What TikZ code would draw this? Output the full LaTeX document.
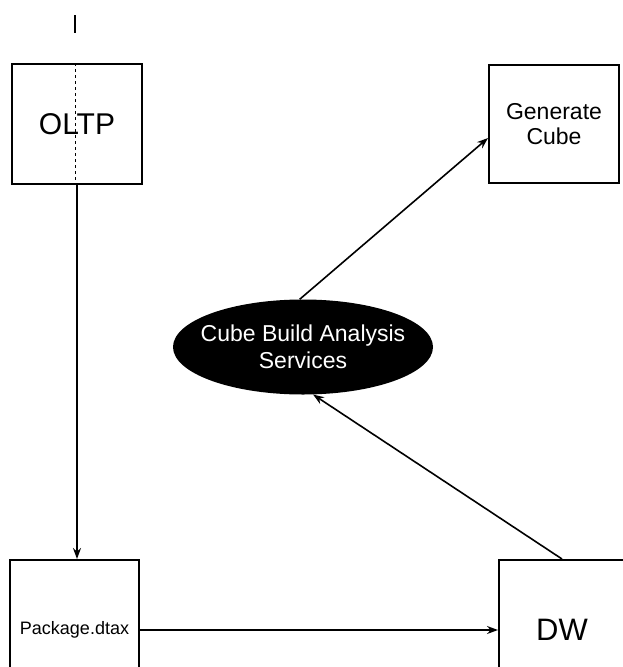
\documentclass[tikz,border=0pt]{standalone}
\usepackage{fontspec}
\setmainfont{Liberation Sans}
\usetikzlibrary{shapes, positioning, calc, arrows.meta}

\begin{document}
\begin{tikzpicture}[x=1pt, y=-1pt]
  \newcommand\boxlw{2pt}
  \newcommand\ptrlw{1.6pt}
  \newcommand\bigfont{\fontsize{30}{33}\selectfont}
  \newcommand\dwfont{\fontsize{31}{34}\selectfont}
  \newcommand\midfont{\fontsize{23}{25}\selectfont}
  \newcommand\ellfont{\fontsize{23}{27}\selectfont}
  \newcommand\smallfont{\fontsize{18}{20}\selectfont}

  \tikzset{flowbox/.style={draw, line width=\boxlw, inner sep=0pt, minimum width=130pt, minimum height=120pt}}
  \tikzset{servellipse/.style={ellipse, fill=black, text=white, inner xsep=-11pt, inner ysep=0pt, minimum width=260pt, minimum height=95pt, align=center, font=\ellfont}}
  \tikzset{ptr/.style={->, >={Stealth[length=11pt, width=8pt]}, line width=\ptrlw}}

  \path[use as bounding box] (0,0) rectangle (623,667);
  \clip (0,0) rectangle (623,667);

  % boxes
  \node[flowbox, font=\bigfont] at (77,124) (oltp) {OLTP};
  \node[flowbox, align=center, minimum height=118pt, font=\midfont] at (554,124) (gencube) {Generate\\Cube};
  \node[servellipse] at (303,347) (cubebuild) {Cube Build Analysis\\Services};
  \node[flowbox, minimum width=129pt, minimum height=140pt, font=\smallfont] at (74.5,630) (pkg) {Package.dtax};
  \node[flowbox, minimum width=126pt, minimum height=140pt, font=\dwfont] at (562,630) (dw) {DW};

  % marks
  \coordinate (ticktop) at (75,15);
  \coordinate (tickbot) at (75,33);
  \draw[line width=1.2pt] (ticktop) -- (tickbot);
  \draw[dashed, line width=0.8pt] (oltp.north -| ticktop) -- (oltp.south -| ticktop);

  % flow
  \draw[ptr] (oltp.south) -- (oltp.south |- pkg.north);
  \draw[ptr] (pkg) -- (dw);
  \draw[ptr] (dw.north) -- (cubebuild.282);
  \draw[ptr] (cubebuild.94) -- (gencube.192);
\end{tikzpicture}
\end{document}
